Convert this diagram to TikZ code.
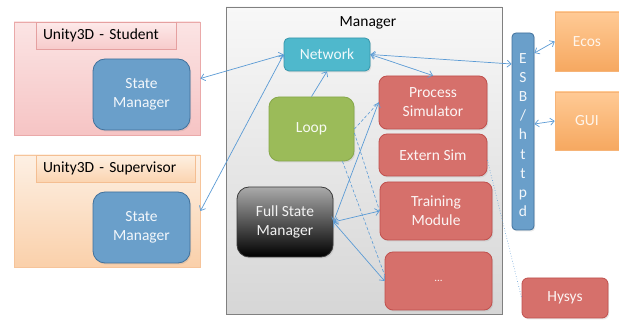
\documentclass[tikz,border=0pt]{standalone}
\usepackage{fontspec}
\setmainfont{Carlito}
\usetikzlibrary{arrows.meta,shadows}
\definecolor{arr}{HTML}{5B9BD5}
\definecolor{smfill}{HTML}{6A9FCA}
\definecolor{smdraw}{HTML}{41719C}
\definecolor{redfill}{HTML}{D6706B}
\definecolor{reddraw}{HTML}{C0504D}
\definecolor{netfill}{HTML}{4FB8CC}
\definecolor{netdraw}{HTML}{3796AB}
\definecolor{loopfill}{HTML}{9BBB59}
\definecolor{loopdraw}{HTML}{86A84A}
\begin{document}
\begin{tikzpicture}[x=1pt,y=-1pt,
  lbl/.style={font=\fontsize{15.5}{19}\selectfont, inner sep=0pt, align=center},
  shd/.style={drop shadow={opacity=0.18, shadow xshift=1.2pt, shadow yshift=-1.5pt}},
  outerbox/.style={lbl, draw, line width=0.8pt, shading=axis, shade, shd},
  tabbox/.style={lbl, draw, line width=0.8pt, shading=axis, shade, align=left, inner xsep=7pt, minimum height=27pt, shd},
  smbox/.style={lbl, draw=smdraw, fill=smfill, line width=0.8pt, rounded corners=12pt, text=white!92!smfill, minimum width=97pt, minimum height=71pt, shd},
  redbox/.style={lbl, draw=reddraw, fill=redfill, line width=0.8pt, rounded corners=8pt, text=white!92!redfill, shd},
  orbox/.style={lbl, top color=orange!35!white!90!orange, bottom color={rgb,255:red,246;green,168;blue,96}, draw={rgb,255:red,246;green,180;blue,120}, line width=0.6pt, text=white!92!orange, shd},
  link/.style={draw=arr, line width=0.7pt, {Straight Barb[length=4pt,width=7pt]}-{Straight Barb[length=4pt,width=7pt]}},
  link1/.style={draw=arr, line width=0.7pt, -{Straight Barb[length=4pt,width=7pt]}},
  dlink/.style={draw=arr, line width=0.6pt, dashed, dash pattern=on 3pt off 2pt}
]
\useasboundingbox[fill=white] (0,0) rectangle (619,320);

% Unity3D - Student
\node[outerbox, top color={rgb,255:red,251;green,228;blue,228}, bottom color={rgb,255:red,246;green,196;blue,196}, draw={rgb,255:red,234;green,169;blue,169}, minimum width=186pt, minimum height=113pt] (stud) at (107,78.5) {};
\node[tabbox, top color={rgb,255:red,253;green,234;blue,234}, bottom color={rgb,255:red,247;green,203;blue,203}, draw={rgb,255:red,229;green,160;blue,160}, text width=126pt] (studtab) at (106,35.5) {Unity3D - Student};
\node[smbox] (sm1) at (141.5,94.5) {State\\Manager};

% Unity3D - Supervisor
\node[outerbox, top color={rgb,255:red,253;green,240;blue,228}, bottom color={rgb,255:red,250;green,208;blue,170}, draw={rgb,255:red,246;green,196;blue,154}, minimum width=186pt, minimum height=112pt] (sup) at (107,211) {};
\node[tabbox, top color={rgb,255:red,254;green,240;blue,226}, bottom color={rgb,255:red,251;green,212;blue,176}, draw={rgb,255:red,244;green,190;blue,146}, text width=145pt] (suptab) at (115.5,168.5) {Unity3D - Supervisor};
\node[smbox] (sm2) at (141.5,227.5) {State\\Manager};

% Manager
\node[outerbox, top color={rgb,255:red,248;green,248;blue,248}, bottom color={rgb,255:red,214;green,214;blue,214}, draw={rgb,255:red,128;green,128;blue,128}, minimum width=276pt, minimum height=307pt] (mgr) at (364,160.5) {};
\node[lbl] (mgrlabel) at (368,22.5) {Manager};

\node[lbl, draw=netdraw, fill=netfill, line width=0.8pt, rounded corners=5pt, text=white!92!netfill, minimum width=86pt, minimum height=33pt, shd] (net) at (327,54.5) {Network};
\node[lbl, draw=loopdraw, fill=loopfill, line width=0.8pt, rounded corners=10pt, text=white!92!loopfill, minimum width=85pt, minimum height=64pt, shd] (loop) at (311.5,129) {Loop};
\node[lbl, draw={rgb,255:red,60;green,60;blue,60}, top color={rgb,255:red,170;green,170;blue,170}, bottom color=black, line width=0.8pt, rounded corners=12pt, text=white!90!gray, minimum width=96pt, minimum height=70pt, shd] (fsm) at (285,222) {Full State\\Manager};

\node[redbox, minimum width=108pt, minimum height=53pt] (psim) at (433,102.5) {Process\\Simulator};
\node[redbox, minimum width=108pt, minimum height=42pt] (ext) at (433,155) {Extern Sim};
\node[redbox, minimum width=112pt, minimum height=58pt] (train) at (436,211) {Training\\Module};
\node[redbox, minimum width=107pt, minimum height=58pt] (dots) at (438.5,281) {\fontsize{11}{13}\selectfont ...};

% ESB / httpd
\node[lbl, draw=smdraw, fill=smfill, line width=0.8pt, rounded corners=4pt, minimum width=22pt, minimum height=197pt, shd] (esb) at (523,131.5) {};
\node[lbl, font=\fontsize{15.5}{19.2}\selectfont, text=white!92!smfill] (esbtxt) at (523,135) {E\\S\\B\\/\\h\\t\\t\\p\\d};

% External
\node[orbox, minimum width=64pt, minimum height=59pt] (ecos) at (587,41.5) {Ecos};
\node[orbox, minimum width=64pt, minimum height=58pt] (gui) at (587,121) {GUI};
\node[redbox, rounded corners=6pt, minimum width=86pt, minimum height=40pt] (hysys) at (565,298) {Hysys};

% Connectors
\draw[link] (stud.east) -- (net.west);
\draw[link] (sup.east) -- (net.west);
\draw[link1] (loop.north) -- (net.south);
\draw[link] (net.east) -- ([yshift=67.5pt]esb.west);
\draw[link] (net.east) -- (psim.north);
\draw[dlink] (loop.east) -- (psim.west);
\draw[link] (fsm.east) -- (psim.west);
\draw[link] (fsm.east) -- (train.west);
\draw[link] (fsm.east) -- (dots.west);
\draw[dlink] ([yshift=-4pt]loop.east) -- (train.west);
\draw[dlink] ([xshift=31pt]loop.south) -- ([yshift=6pt]dots.west);
\draw[draw=arr, line width=0.6pt, dotted] ([yshift=-5pt]ext.east) -- (hysys.west);
\draw[link] ([yshift=78.5pt]esb.east) -- (ecos.west);
\draw[link] ([yshift=7.5pt]esb.east) -- (gui.west);
\end{tikzpicture}
\end{document}
